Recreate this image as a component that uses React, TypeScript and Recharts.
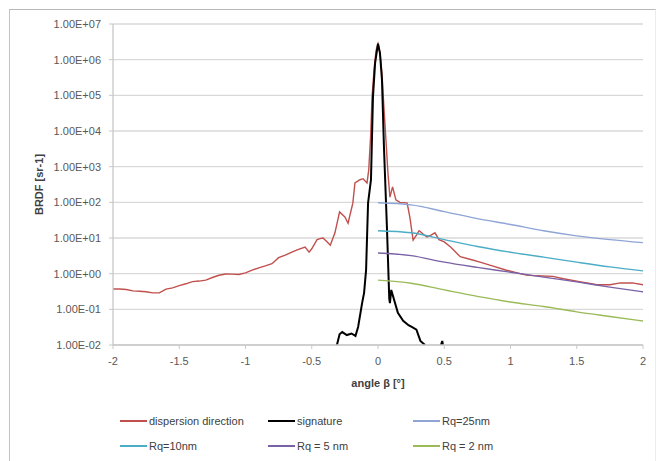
import { LineChart, Line, XAxis, YAxis, CartesianGrid, Label } from "recharts"

// angle (deg) / BRDF
const dispersionX = [-2, -1.95, -1.9, -1.85, -1.8, -1.75, -1.7, -1.65, -1.6, -1.55, -1.5, -1.45, -1.4, -1.35, -1.3, -1.25, -1.2, -1.15, -1.1, -1.05, -1, -0.95, -0.9, -0.85, -0.8, -0.75, -0.7, -0.65, -0.6, -0.55, -0.52, -0.5, -0.46, -0.43, -0.415, -0.385, -0.36, -0.325, -0.29, -0.25, -0.226, -0.19, -0.174, -0.136, -0.113, -0.083, -0.07, -0.055, -0.045, -0.03, -0.015, 0, 0.015, 0.03, 0.04, 0.06, 0.075, 0.09, 0.11, 0.135, 0.165, 0.2, 0.22, 0.24, 0.265, 0.29, 0.31, 0.33, 0.35, 0.37, 0.4, 0.43, 0.46, 0.5, 0.55, 0.62, 0.7, 0.77, 0.85, 0.97, 1.05, 1.12, 1.2, 1.32, 1.4, 1.52, 1.6, 1.65, 1.75, 1.83, 1.92, 2]
const dispersionY = [0.37, 0.37, 0.36, 0.33, 0.32, 0.31, 0.29, 0.29, 0.37, 0.4, 0.46, 0.52, 0.6, 0.62, 0.66, 0.78, 0.9, 0.98, 0.97, 0.95, 1.05, 1.25, 1.45, 1.65, 1.9, 2.8, 3.3, 4.0, 4.8, 5.6, 4.0, 5.0, 9.0, 9.8, 10, 7.8, 6.3, 14, 54, 39, 26, 95, 350, 430, 460, 350, 800, 8000, 9e4, 5e5, 1.8e6, 2.8e6, 1.6e6, 4e5, 9e4, 5600, 660, 140, 270, 117, 100, 98, 95, 39, 8.7, 12, 16, 14, 12, 10.7, 12, 14, 9, 7.8, 5.5, 3.0, 2.5, 2.1, 1.7, 1.25, 1.05, 0.91, 0.87, 0.84, 0.72, 0.6, 0.53, 0.49, 0.49, 0.55, 0.55, 0.49]

const signatureX = [-0.31, -0.29, -0.27, -0.235, -0.2, -0.17, -0.15, -0.12, -0.105, -0.09, -0.075, -0.053, -0.038, -0.022, 0, 0.015, 0.03, 0.045, 0.068, 0.085, 0.09, 0.1, 0.15, 0.19, 0.23, 0.255, 0.29, 0.32, 0.355, 0.42, 0.475, 0.485, 0.49]
const signatureY = [0.01, 0.02, 0.023, 0.019, 0.021, 0.018, 0.032, 0.15, 0.29, 1.25, 96, 430, 9e4, 8e5, 2.8e6, 1.5e6, 2.7e5, 3500, 17, 0.2, 0.15, 0.35, 0.08, 0.048, 0.036, 0.032, 0.027, 0.013, 0.01, null, 0.01, 0.013, 0.01]

const modelX = [0, 0.25, 0.5, 0.75, 1, 1.25, 1.5, 1.75, 2]
const rq25 = [97, 85, 55, 35, 24, 16, 11.5, 9, 7.4]
const rq10 = [16, 14, 9, 5.8, 4.0, 2.9, 2.1, 1.55, 1.2]
const rq5 = [3.8, 3.2, 2.1, 1.5, 1.1, 0.8, 0.59, 0.42, 0.31]
const rq2 = [0.66, 0.54, 0.35, 0.23, 0.16, 0.12, 0.085, 0.063, 0.047]

const xTicks = [-2, -1.5, -1, -0.5, 0, 0.5, 1, 1.5, 2]
const yTicks = [0.01, 0.1, 1, 10, 100, 1e3, 1e4, 1e5, 1e6, 1e7]

const toPoints = (xs: number[], ys: (number | null)[]) => xs.map((x, i) => ({ x, y: ys[i] }))

const series = [
  { name: "dispersion direction", color: "#C0504D", width: 1.4, type: "linear", data: toPoints(dispersionX, dispersionY) },
  { name: "signature", color: "#000000", width: 2, type: "linear", data: toPoints(signatureX, signatureY) },
  { name: "Rq=25nm", color: "#8FA5D6", width: 1.4, type: "monotone", data: toPoints(modelX, rq25) },
  { name: "Rq=10nm", color: "#4BACC6", width: 1.4, type: "monotone", data: toPoints(modelX, rq10) },
  { name: "Rq = 5 nm", color: "#7A62A6", width: 1.4, type: "monotone", data: toPoints(modelX, rq5) },
  { name: "Rq = 2 nm", color: "#9BBB59", width: 1.4, type: "monotone", data: toPoints(modelX, rq2) },
]

const legendCols = [120, 268, 413]
const legendRows = [421, 446]

const fmtExp = (v: number) => {
  const e = Math.round(Math.log10(v))
  return `1.00E${e < 0 ? "-" : "+"}${String(Math.abs(e)).padStart(2, "0")}`
}

const font = "'Liberation Sans', Arial, sans-serif"
const tickStyle = { fontSize: 11, fill: "#595959", fontFamily: font }

export default function App() {
  return (
    <div style={{ position: "absolute", left: 0, top: 0, width: 658, height: 461, background: "#fff", fontFamily: font }}>
      <div
        style={{
          position: "absolute", left: 9, top: 9, width: 645, height: 452,
          borderTop: "1px solid #b8b8b8", borderLeft: "1px solid #c4c4c4", borderRight: "1px solid #ececec",
        }}
      />
      <div style={{ position: "absolute", left: 0, top: 0 }}>
        <LineChart width={658} height={461} margin={{ top: 24, right: 15, bottom: 86, left: 0 }}>
          <CartesianGrid vertical={false} stroke="#d9d9d9" strokeWidth={1.3} />
          <XAxis
            type="number"
            dataKey="x"
            domain={[-2, 2]}
            ticks={xTicks}
            allowDataOverflow
            tick={tickStyle}
            tickSize={4}
            tickMargin={8}
            axisLine={{ stroke: "#c8c8c8", strokeWidth: 1.3 }}
            tickLine={{ stroke: "#c8c8c8" }}
            height={30}
          >
            <Label
              value="angle β [°]"
              position="bottom"
              offset={4}
              style={{ fontSize: 11, fontWeight: "bold", fill: "#404040", fontFamily: font }}
            />
          </XAxis>
          <YAxis
            type="number"
            scale="log"
            domain={[0.01, 1e7]}
            ticks={yTicks}
            allowDataOverflow
            tickFormatter={fmtExp}
            tick={tickStyle}
            tickSize={4}
            tickMargin={8}
            width={113}
            axisLine={{ stroke: "#c8c8c8", strokeWidth: 1.3 }}
            tickLine={{ stroke: "#c8c8c8" }}
          >
            <Label
              content={() => (
                <text
                  x={39}
                  y={184.5}
                  transform="rotate(-90 39 184.5)"
                  textAnchor="middle"
                  dominantBaseline="central"
                  style={{ fontSize: 11, fontWeight: "bold", fill: "#404040", fontFamily: font }}
                >
                  BRDF [sr-1]
                </text>
              )}
            />
          </YAxis>
          {series.map((s) => (
            <Line
              key={s.name}
              data={s.data}
              dataKey="y"
              name={s.name}
              type={s.type as "linear" | "monotone"}
              stroke={s.color}
              strokeWidth={s.width}
              dot={false}
              activeDot={false}
              isAnimationActive={false}
            />
          ))}
        </LineChart>
      </div>
      {series.map((s, i) => (
        <div
          key={s.name}
          style={{
            position: "absolute",
            left: legendCols[i % 3],
            top: legendRows[Math.floor(i / 3)] - 8,
            height: 16,
            display: "flex",
            alignItems: "center",
            fontSize: 11,
            color: "#404040",
            whiteSpace: "nowrap",
          }}
        >
          <span style={{ display: "inline-block", width: 27, height: 2, background: s.color, marginRight: 2 }} />
          {s.name}
        </div>
      ))}
    </div>
  )
}
